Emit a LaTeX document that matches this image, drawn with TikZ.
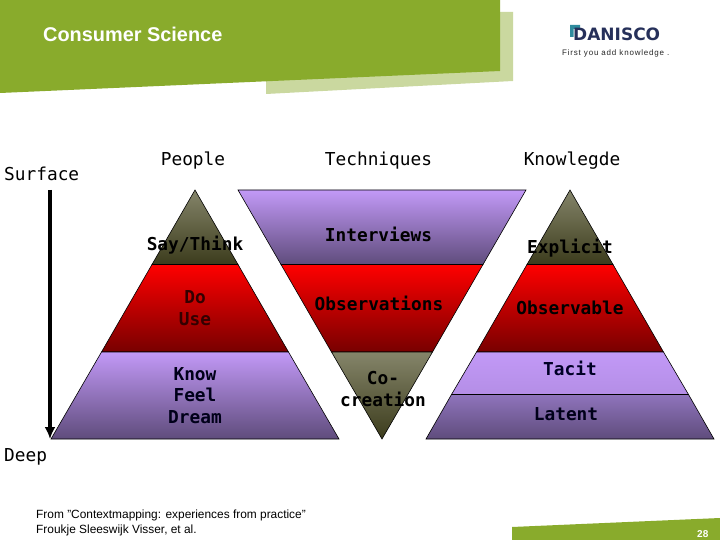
\documentclass[tikz,border=0pt]{standalone}
\usepackage{fontspec}
\usetikzlibrary{arrows.meta}
\setmainfont{Liberation Sans}
\newfontfamily\monof{DejaVu Sans Mono}
\newfontfamily\logof{DejaVu Sans}
\newfontfamily\tagf[LetterSpace=10]{Liberation Sans}
\definecolor{hgreen}{HTML}{89AB2C}
\definecolor{hlight}{HTML}{CAD89F}
\definecolor{navy}{HTML}{26305A}
\definecolor{teal2}{HTML}{2F8C9E}
\definecolor{olivetop}{HTML}{85856A}
\definecolor{olivebot}{HTML}{3C3C1C}
\definecolor{redtop}{HTML}{FF0000}
\definecolor{redbot}{HTML}{780000}
\definecolor{purtop}{HTML}{C299F7}
\definecolor{purbot}{HTML}{5F4C7C}
\definecolor{tacitbot}{HTML}{B48EE6}
\definecolor{lattop}{HTML}{8F74BC}
\tikzset{
  x=1pt,y=-1pt,
  head/.style={font=\monof\fontsize{17.8}{21}\selectfont,text=black,inner sep=0pt},
  lab/.style={font=\monof\bfseries\fontsize{17.8}{21.5}\selectfont,inner sep=0pt,align=center,text=black},
  band/.style={draw=black,line width=0.6pt},
  olive/.style={band,top color=olivetop,bottom color=olivebot},
  redb/.style={band,top color=redtop,bottom color=redbot},
  purp/.style={band,top color=purtop,bottom color=purbot},
  foot/.style={font=\fontsize{11.9}{14.2}\selectfont,inner sep=0pt,align=left,text=black}
}
\begin{document}
\begin{tikzpicture}
\useasboundingbox (0,0) rectangle (720,540);
\fill[white] (0,0) rectangle (720,540);
% header
\fill[hlight] (500,12) -- (513,12) -- (513,81) -- (266,94) -- (266,75) -- cycle;
\fill[hgreen] (0,0) -- (500,0) -- (500,71) -- (0,93) -- cycle;
\node[anchor=west,inner sep=0pt,text=white,font=\bfseries\fontsize{19.9}{22}\selectfont] (title) at (43,34) {Consumer Science};
% logo
\fill[teal2] (570,25) -- (580,25) -- (580,29) -- (573.5,29) -- (573.5,37) -- (570,37) -- cycle;
\node[anchor=base west,inner sep=0pt,text=navy,font=\logof\bfseries\fontsize{17}{18}\selectfont] (logo) at (573,40.5) {DANISCO};
\node[anchor=west,inner sep=0pt,text=black!85,font=\tagf\fontsize{8}{9}\selectfont] (tag) at (562,53) {First you add knowledge .};
% arrow
\coordinate (astart) at (50,190);
\coordinate (aend) at (50,439);
\draw[line width=3.4pt,-{Latex[length=12pt,width=11pt]}] (astart) -- (aend);
% pyramid 1
\path[olive] (195,190) -- (238,264.5) -- (152,264.5) -- cycle;
\path[redb] (152,264.5) -- (238,264.5) -- (288.5,352) -- (101.5,352) -- cycle;
\path[purp] (101.5,352) -- (288.5,352) -- (339,439) -- (51,439) -- cycle;
% inverted pyramid
\path[purp] (238,190) -- (526,190) -- (483,264.5) -- (281,264.5) -- cycle;
\path[redb] (281,264.5) -- (483,264.5) -- (432.5,352) -- (331.5,352) -- cycle;
\path[olive] (331.5,352) -- (432.5,352) -- (382,439) -- cycle;
% pyramid 3
\path[olive] (570,190) -- (613,264.5) -- (527,264.5) -- cycle;
\path[redb] (527,264.5) -- (613,264.5) -- (663.5,352) -- (476.5,352) -- cycle;
\path[band,top color=purtop,bottom color=tacitbot] (476.5,352) -- (663.5,352) -- (688.5,394.5) -- (451.5,394.5) -- cycle;
\path[band,top color=lattop,bottom color=purbot] (451.5,394.5) -- (688.5,394.5) -- (714,439) -- (426,439) -- cycle;
% headings
\node[head,anchor=west] (surface) at (4,174) {Surface};
\node[head] (people) at (193,160.5) {People};
\node[head] (tech) at (378.5,160.5) {Techniques};
\node[head] (know) at (572,160.5) {Knowlegde};
\node[head,anchor=west] (deep) at (4,456.5) {Deep};
% labels
\node[lab] (l1) at (195,245) {Say/Think};
\node[lab,text=black!80!red] (l2) at (195,308) {Do\\Use};
\node[lab,text=black!90!blue] (l3) at (195,395.5) {Know\\Feel\\Dream};
\node[lab] (l4) at (378.5,234) {Interviews};
\node[lab] (l5) at (379,303.5) {Observations};
\node[lab] (l6) at (383,389) {Co-\\creation};
\node[lab] (l7) at (570,248) {Explicit};
\node[lab] (l8) at (570,308) {Observable};
\node[lab,text=black!85!blue] (l9) at (570,368) {Tacit};
\node[lab,text=black!90!blue] (l10) at (566,414) {Latent};
% footer
\fill[hgreen] (512,527) -- (720,518) -- (720,540) -- (512,540) -- cycle;
\node[anchor=west,inner sep=0pt,text=white,font=\bfseries\fontsize{10}{11}\selectfont] (page) at (697,534) {28};
\node[foot,anchor=north west] (src) at (36,510) {From "Contextmapping: experiences from practice"\\Froukje Sleeswijk Visser, et al.};
\end{tikzpicture}
\end{document}
